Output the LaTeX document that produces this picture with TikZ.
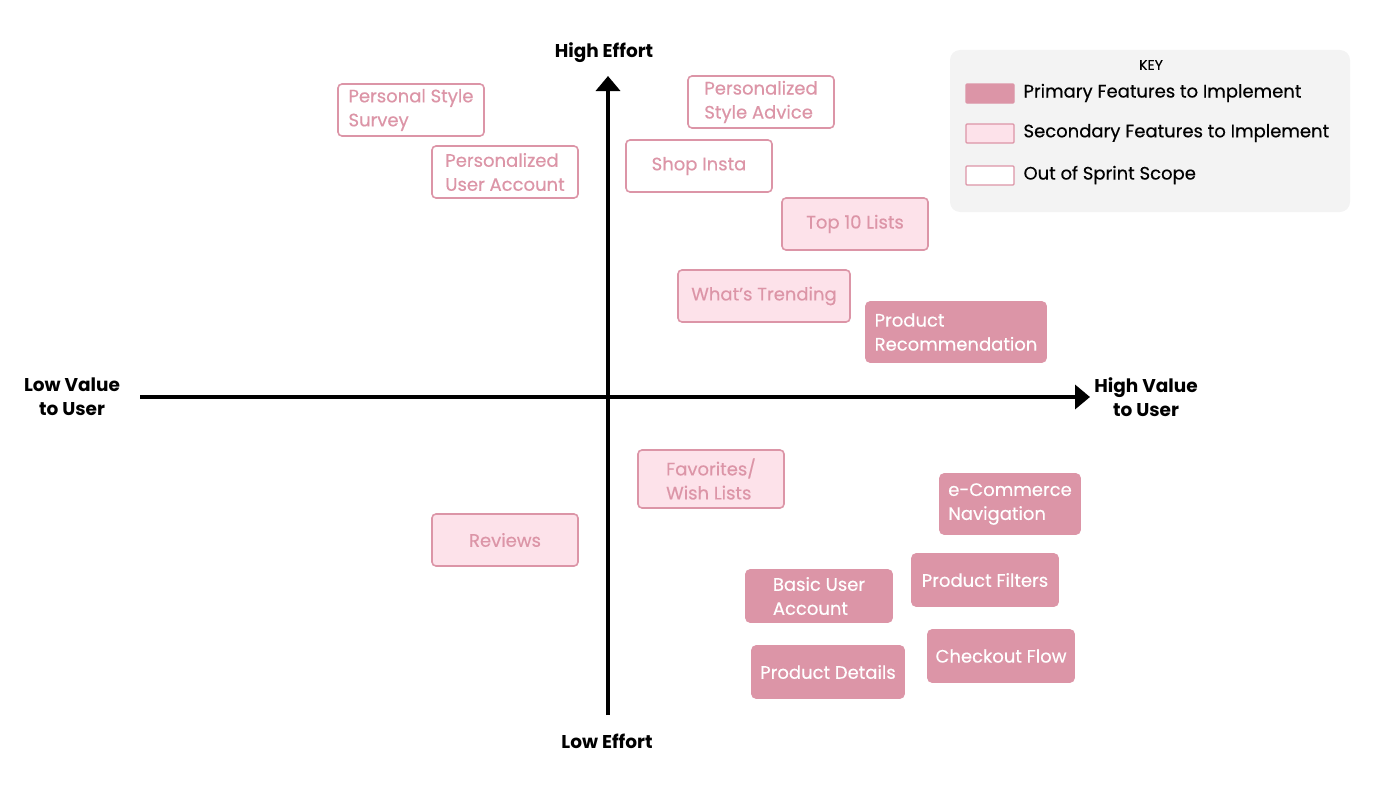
\documentclass[tikz,border=0pt]{standalone}
\usepackage{fontspec}
\setmainfont{Poppins}
\newfontfamily\medfont[FakeBold=0.4]{Poppins}
\usetikzlibrary{arrows.meta}
\definecolor{rosedark}{HTML}{DC95A7}
\definecolor{roselight}{HTML}{FDE2EA}
\definecolor{keygrey}{HTML}{F3F3F3}

\begin{document}
\begin{tikzpicture}[x=1pt,y=-1pt,
    feat/.style={rounded corners=4pt, draw=rosedark, line width=1.6pt,
      minimum width=146pt, minimum height=52pt, inner xsep=4pt, align=left,
      font=\medfont\fontsize{18}{24}\selectfont},
    primary/.style={feat, fill=rosedark, text=white},
    secondary/.style={feat, fill=roselight, text=rosedark},
    outscope/.style={feat, fill=white, text=rosedark},
    axislabel/.style={font=\fontsize{18.5}{24}\selectfont\bfseries, align=center},
    axis/.style={line width=3.6pt, -{Triangle[length=15pt,width=24pt]}},
    swatch/.style={minimum width=48pt, minimum height=19pt, inner sep=0pt},
    keytext/.style={anchor=west, font=\medfont\fontsize{18}{20}\selectfont}]
  \useasboundingbox (0,0) rectangle (1400,800);

  % axes
  \coordinate (xlo) at (140,397);
  \coordinate (xhi) at (1090,397);
  \coordinate (ylo) at (608,715);
  \coordinate (yhi) at (608,76);
  \draw[axis] (xlo) -- (xhi);
  \draw[axis] (ylo) -- (yhi);

  \node[axislabel] (higheffort) at (604,53) {High Effort};
  \node[axislabel] (loweffort) at (607,741) {Low Effort};
  \node[axislabel] (lowvalue) at (72,397) {Low Value\\to User};
  \node[axislabel] (highvalue) at (1146,397) {High Value\\to User};

  % features out of sprint scope
  \node[outscope] (survey) at (411,110) {Personal Style\\Survey};
  \node[outscope] (useracct) at (505,172) {Personalized\\User Account};
  \node[outscope] (advice) at (761,102) {Personalized\\Style Advice};
  \node[outscope] (insta) at (699,166) {Shop Insta};

  % secondary features
  \node[secondary] (topten) at (855,224) {Top 10 Lists};
  \node[secondary, minimum width=172pt] (trending) at (764,296) {What’s Trending};
  \node[secondary, minimum height=58pt] (wishlist) at (711,479) {Favorites/\\Wish Lists};
  \node[secondary] (reviews) at (505,540) {Reviews};

  % primary features
  \node[primary, minimum width=180pt, minimum height=60pt] (recs) at (956,332) {Product\\Recommendation};
  \node[primary, minimum width=140pt, minimum height=60pt] (nav) at (1010,504) {e-Commerce\\Navigation};
  \node[primary] (filters) at (985,580) {Product Filters};
  \node[primary] (basicacct) at (819,596) {Basic User\\Account};
  \node[primary] (checkout) at (1001,656) {Checkout Flow};
  \node[primary, minimum width=152pt] (details) at (828,672) {Product Details};

  % key
  \node[fill=keygrey, rounded corners=10pt, minimum width=400pt, minimum height=162pt] (keybox) at (1150,131) {};
  \node[font=\medfont\fontsize{14}{16}\selectfont] (keytitle) at (1151,65) {KEY};
  \node[swatch, fill=rosedark, draw=rosedark, line width=1.2pt, rounded corners=1pt] (swprim) at (990,93.5) {};
  \node[swatch, fill=roselight, draw=rosedark, line width=1.2pt, rounded corners=1pt] (swsec) at (990,133.5) {};
  \node[swatch, fill=white, draw=rosedark, line width=1.2pt, rounded corners=1pt] (swout) at (990,175.5) {};
  \node[keytext] (keyprim) at (1020,93) {Primary Features to Implement};
  \node[keytext] (keysec) at (1020,133) {Secondary Features to Implement};
  \node[keytext] (keyout) at (1020,175) {Out of Sprint Scope};
\end{tikzpicture}
\end{document}
